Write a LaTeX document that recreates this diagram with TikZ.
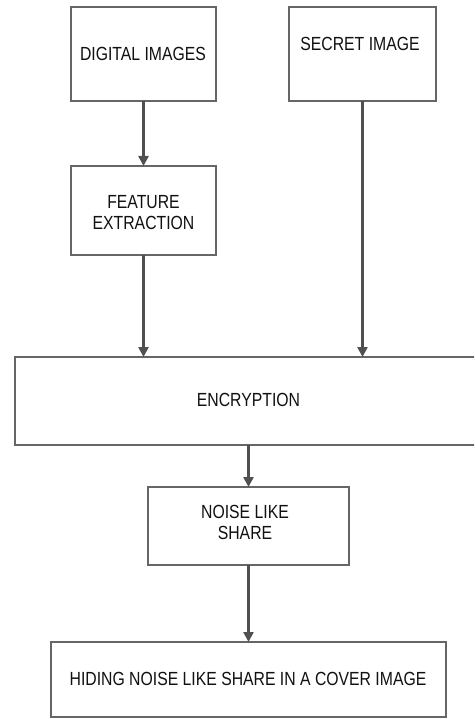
\documentclass[tikz,border=0pt]{standalone}
\usepackage{fontspec}
\setmainfont{Liberation Sans}[FakeStretch=0.83]
\usetikzlibrary{arrows.meta}
\definecolor{boxgray}{HTML}{666666}
\definecolor{arrgray}{HTML}{505050}
\definecolor{txt}{HTML}{111111}
\tikzset{
  box/.style={draw=boxgray, line width=1.2pt, rectangle, inner sep=0pt, outer sep=0pt, fill=white},
  lbl/.style={inner sep=0pt, text=txt, align=center, font=\fontsize{19}{21}\selectfont},
  arr/.style={draw=arrgray, line width=2.4pt, -{Triangle[length=10pt,width=10pt]}}
}
\begin{document}
\begin{tikzpicture}[x=1pt,y=-1pt]
\clip (0,0) rectangle (474,719);
\fill[white] (0,0) rectangle (474,719);
% boxes
\node[box, minimum width=145, minimum height=94] (di) at (143.5,54) {};
\node[box, minimum width=147, minimum height=94] (si) at (362.5,54) {};
\node[box, minimum width=145, minimum height=89] (fe) at (143.5,210.5) {};
\node[box, minimum width=467, minimum height=88] (enc) at (248.5,401) {};
\node[box, minimum width=201, minimum height=78] (ns) at (248.5,526) {};
\node[box, minimum width=395, minimum height=75] (hid) at (248.5,679.5) {};
% labels
\node[lbl] (tdi) at (143,54) {DIGITAL IMAGES};
\node[lbl] (tsi) at (360,44) {SECRET IMAGE};
\node[lbl] (tfe) at (143.5,212.5) {FEATURE\\EXTRACTION};
\node[lbl] (tenc) at (248.5,400) {ENCRYPTION};
\node[lbl] (tns) at (245,522.5) {NOISE LIKE\\SHARE};
\node[lbl] (thid) at (248,679) {HIDING NOISE LIKE SHARE IN A COVER IMAGE};
% arrows
\draw[arr] (di.south) -- (fe.north);
\draw[arr] (fe.south) -- (fe.south |- enc.north);
\draw[arr] (si.south) -- (si.south |- enc.north);
\draw[arr] (enc.south) -- (ns.north);
\draw[arr] (ns.south) -- (hid.north);
\end{tikzpicture}
\end{document}
